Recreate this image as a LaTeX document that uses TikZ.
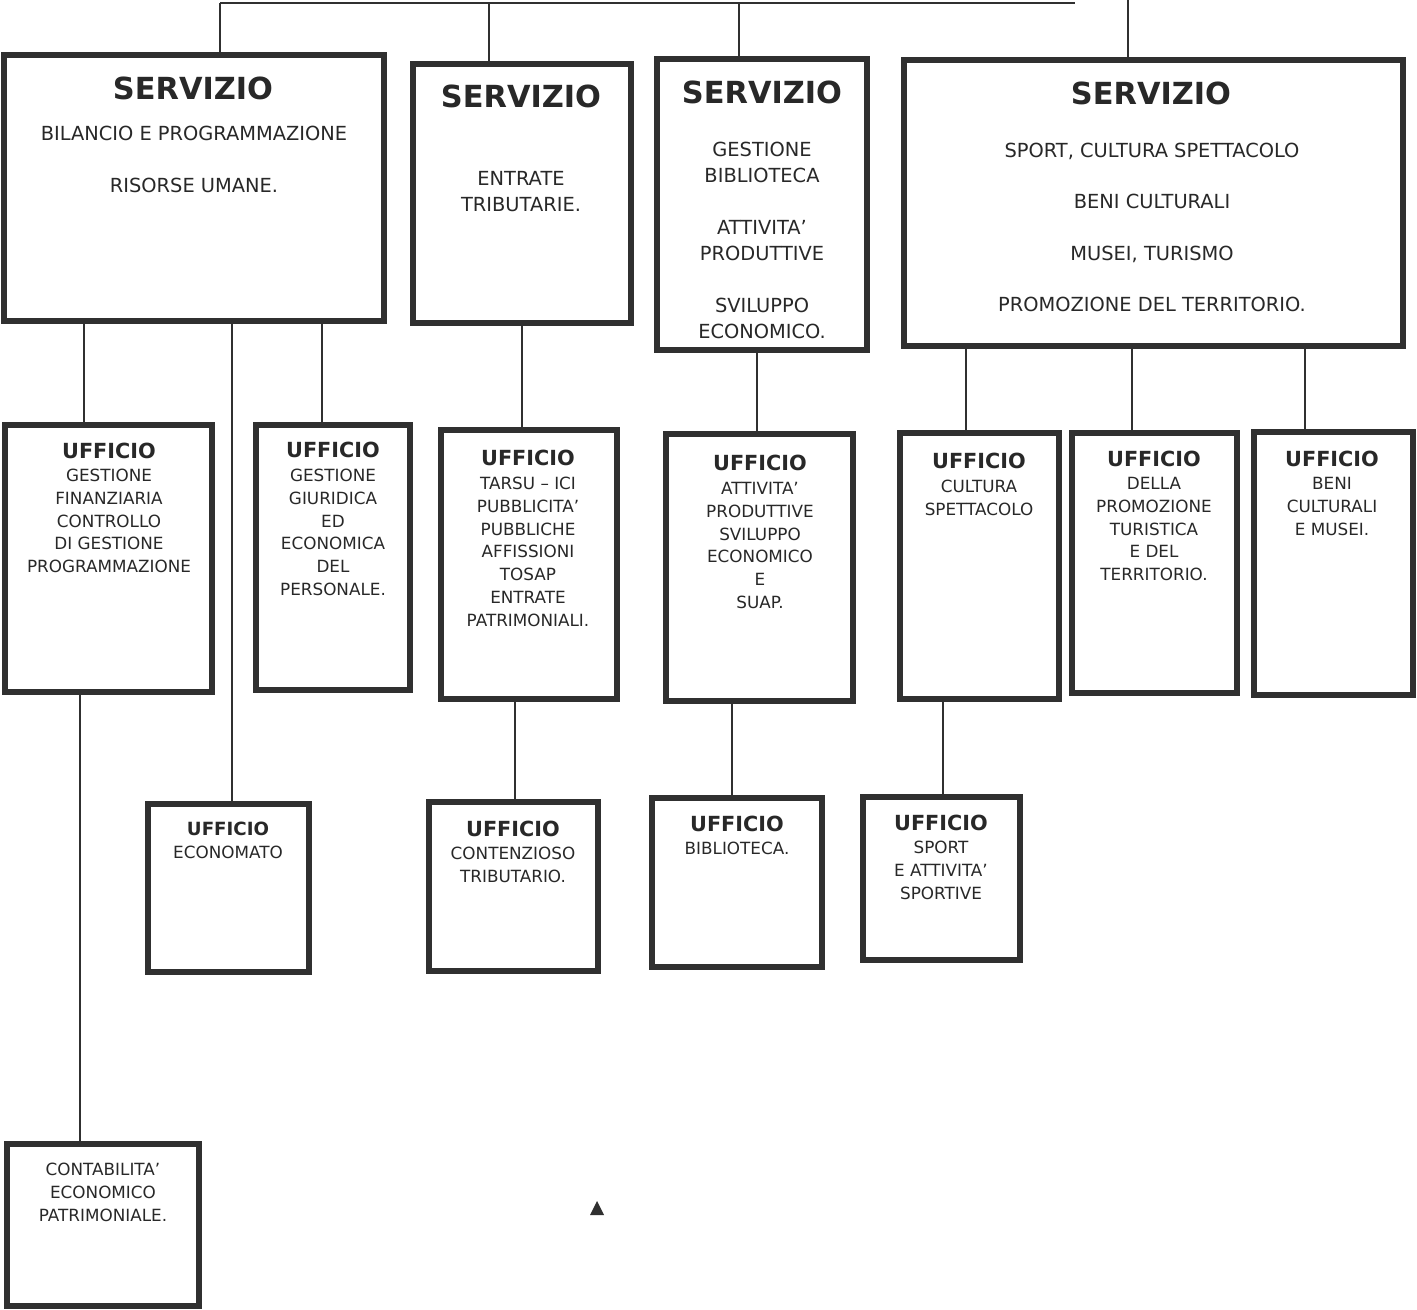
\documentclass[tikz,border=0pt]{standalone}
\usepackage{fontspec}
\setmainfont{DejaVu Sans}
\definecolor{ink}{RGB}{48,48,48}
\definecolor{txt}{RGB}{40,40,40}
\tikzset{
  box/.style={draw=ink, line width=3pt, rectangle, inner sep=0pt, fill=white},
  conn/.style={draw=ink, line width=1.1pt},
  stitle/.style={inner sep=0pt, text=txt, font=\fontsize{15.2}{18}\bfseries},
  sbody/.style={inner sep=0pt, text=txt, anchor=north, align=center, font=\fontsize{9.7}{13}\selectfont},
  utitle/.style={inner sep=0pt, text=txt, font=\fontsize{10.4}{12}\bfseries},
  utitlesm/.style={inner sep=0pt, text=txt, font=\fontsize{9.1}{11}\bfseries},
  ubody/.style={inner sep=0pt, text=txt, anchor=north, align=center, font=\fontsize{8.4}{11.35}\selectfont},
}
\newcommand{\obox}[5]{\node[box, minimum width={(#4-#2)*0.5pt}, minimum height={(#5-#3)*0.5pt}] (#1) at ({(#2+#4)/2},{(#3+#5)/2}) {};}
\begin{document}
\begin{tikzpicture}[x=0.5pt,y=-0.5pt]
\useasboundingbox (0,0) rectangle (1417,1310);
% top line coordinates
\coordinate (topL) at (220,3);
\coordinate (topR) at (1075,3);
\coordinate (topS4) at (1128,0);
% connectors first
\draw[conn] (topL) -- (topR);
% boxes
\obox{s1}{4}{55}{384}{321}
\obox{s2}{413}{64}{631}{323}
\obox{s3}{657}{59}{867}{350}
\obox{s4}{904}{60}{1403}{346}
\obox{u1}{5}{425}{212}{692}
\obox{u2}{256}{425}{410}{690}
\obox{u3}{441}{430}{617}{699}
\obox{u4}{666}{434}{853}{701}
\obox{u5}{900}{433}{1059}{699}
\obox{u6}{1072}{433}{1237}{693}
\obox{u7}{1254}{432}{1413}{695}
\obox{eco}{148}{804}{309}{972}
\obox{con}{429}{802}{598}{971}
\obox{bib}{652}{798}{822}{967}
\obox{spo}{863}{797}{1020}{960}
\obox{cep}{7}{1144}{199}{1306}
% top connectors
\draw[conn] (topL) -- (topL |- s1.north);
\draw[conn] (489,3 |- topL) -- (489,0 |- s2.north);
\draw[conn] (739,3 |- topL) -- (739,0 |- s3.north);
\draw[conn] (topS4) -- (topS4 |- s4.north);
% servizio -> uffici
\draw[conn] (84,0 |- s1.south) -- (84,0 |- u1.north);
\draw[conn] (322,0 |- s1.south) -- (322,0 |- u2.north);
\draw[conn] (232,0 |- s1.south) -- (232,0 |- eco.north);
\draw[conn] (522,0 |- s2.south) -- (522,0 |- u3.north);
\draw[conn] (757,0 |- s3.south) -- (757,0 |- u4.north);
\draw[conn] (966,0 |- s4.south) -- (966,0 |- u5.north);
\draw[conn] (1132,0 |- s4.south) -- (1132,0 |- u6.north);
\draw[conn] (1305,0 |- s4.south) -- (1305,0 |- u7.north);
% uffici -> sub-uffici
\draw[conn] (80,0 |- u1.south) -- (80,0 |- cep.north);
\draw[conn] (515,0 |- u3.south) -- (515,0 |- con.north);
\draw[conn] (732,0 |- u4.south) -- (732,0 |- bib.north);
\draw[conn] (943,0 |- u5.south) -- (943,0 |- spo.north);
% servizio texts
\node[stitle] (s1t) at (193,88) {SERVIZIO};
\node[sbody] (s1b) at (194,126) {BILANCIO E PROGRAMMAZIONE\\[13pt]RISORSE UMANE.};
\node[stitle] (s2t) at (521,96) {SERVIZIO};
\node[sbody] (s2b) at (521,171) {ENTRATE\\TRIBUTARIE.};
\node[stitle] (s3t) at (762,92) {SERVIZIO};
\node[sbody] (s3b) at (762,142) {GESTIONE\\BIBLIOTECA\\[13pt]ATTIVITA’\\PRODUTTIVE\\[13pt]SVILUPPO\\ECONOMICO.};
\node[stitle] (s4t) at (1151,93) {SERVIZIO};
\node[sbody] (s4b) at (1152,143) {SPORT, CULTURA SPETTACOLO\\[12.6pt]BENI CULTURALI\\[12.6pt]MUSEI, TURISMO\\[12.6pt]PROMOZIONE DEL TERRITORIO.};
% ufficio texts
\node[utitle] (u1t) at (109,451) {UFFICIO};
\node[ubody] (u1b) at (109,469) {GESTIONE\\FINANZIARIA\\CONTROLLO\\DI GESTIONE\\PROGRAMMAZIONE};
\node[utitle] (u2t) at (333,450) {UFFICIO};
\node[ubody] (u2b) at (333,469) {GESTIONE\\GIURIDICA\\ED\\ECONOMICA\\DEL\\PERSONALE.};
\node[utitle] (u3t) at (528,458) {UFFICIO};
\node[ubody] (u3b) at (528,477) {TARSU – ICI\\PUBBLICITA’\\PUBBLICHE\\AFFISSIONI\\TOSAP\\ENTRATE\\PATRIMONIALI.};
\node[utitle] (u4t) at (760,463) {UFFICIO};
\node[ubody] (u4b) at (760,482) {ATTIVITA’\\PRODUTTIVE\\SVILUPPO\\ECONOMICO\\E\\SUAP.};
\node[utitle] (u5t) at (979,461) {UFFICIO};
\node[ubody] (u5b) at (979,480) {CULTURA\\SPETTACOLO};
\node[utitle] (u6t) at (1154,459) {UFFICIO};
\node[ubody] (u6b) at (1154,477) {DELLA\\PROMOZIONE\\TURISTICA\\E DEL\\TERRITORIO.};
\node[utitle] (u7t) at (1332,459) {UFFICIO};
\node[ubody] (u7b) at (1332,477) {BENI\\CULTURALI\\E MUSEI.};
\node[utitlesm] (ecot) at (228,829) {UFFICIO};
\node[ubody] (ecob) at (228,846) {ECONOMATO};
\node[utitle] (cont) at (513,829) {UFFICIO};
\node[ubody] (conb) at (513,847) {CONTENZIOSO\\TRIBUTARIO.};
\node[utitle] (bibt) at (737,824) {UFFICIO};
\node[ubody] (bibb) at (737,842) {BIBLIOTECA.};
\node[utitle] (spot) at (941,823) {UFFICIO};
\node[ubody] (spob) at (941,841) {SPORT\\E ATTIVITA’\\SPORTIVE};
\node[ubody] (cepb) at (103,1163) {CONTABILITA’\\ECONOMICO\\PATRIMONIALE.};
% stray mark
\fill[ink] (590,1215) -- (604,1215) -- (597,1201) -- cycle;
\end{tikzpicture}
\end{document}
